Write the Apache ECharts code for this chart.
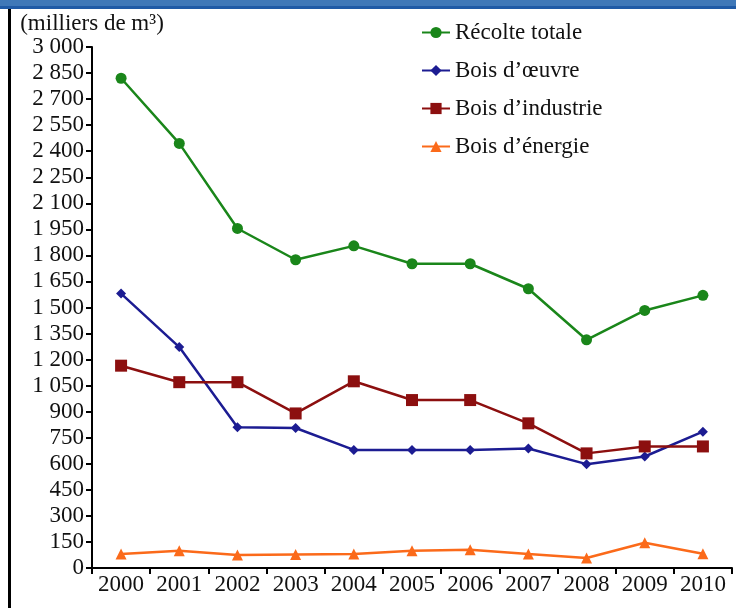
<!DOCTYPE html>
<html>
<head>
<meta charset="utf-8">
<script src="https://cdn.jsdelivr.net/npm/echarts@6/dist/echarts.min.js"></script>
<style>
  html, body { margin: 0; padding: 0; background: #ffffff; }
  #chart { width: 736px; height: 608px; }
</style>
</head>
<body>
<div id="chart"></div>
<script>
// years on the x axis
const years = ["2000", "2001", "2002", "2003", "2004", "2005", "2006", "2007", "2008", "2009", "2010"];

// thousands of m3
const recolteTotale = [2820, 2445, 1955, 1775, 1855, 1752, 1752, 1608, 1314, 1483, 1570];
const boisOeuvre = [1580, 1272, 810, 806, 680, 680, 680, 688, 598, 642, 785];
const boisIndustrie = [1165, 1070, 1070, 890, 1075, 967, 967, 833, 660, 700, 700];
const boisEnergie = [80, 100, 75, 78, 80, 100, 105, 80, 58, 145, 82];

const seriesNames = ["Récolte totale", "Bois d\u2019œuvre", "Bois d\u2019industrie", "Bois d\u2019énergie"];

const serif = "'Liberation Serif', 'DejaVu Serif', serif";

function formatThousands(value) {
  const s = String(value);
  if (s.length <= 3) {
    return s;
  }
  return s.slice(0, s.length - 3) + " " + s.slice(-3);
}

function lineSeries(name, data, color, symbol, size) {
  return {
    name: name,
    type: "line",
    data: data,
    symbol: symbol,
    symbolSize: size,
    showSymbol: true,
    itemStyle: { color: color },
    lineStyle: { color: color, width: 2.5 },
  };
}

const chart = echarts.init(document.getElementById("chart"), null, { renderer: "canvas" });

chart.setOption({
  animation: false,
  backgroundColor: "#ffffff",
  textStyle: { fontFamily: serif },
  grid: {
    left: 92,
    right: 4,
    top: 47,
    bottom: 40,
    containLabel: false,
  },
  legend: {
    orient: "vertical",
    left: 416,
    top: 16,
    itemWidth: 28,
    itemHeight: 14,
    itemGap: 15,
    data: seriesNames,
    textStyle: {
      fontFamily: serif,
      fontSize: 23,
      color: "#111111",
    },
  },
  xAxis: {
    type: "category",
    data: years,
    boundaryGap: true,
    axisLine: { lineStyle: { color: "#000000", width: 2 } },
    axisTick: {
      show: true,
      alignWithLabel: false,
      interval: 0,
      length: 6,
      lineStyle: { color: "#000000", width: 2 },
    },
    axisLabel: {
      interval: 0,
      hideOverlap: false,
      color: "#111111",
      fontFamily: serif,
      fontSize: 23,
      margin: 5,
    },
    splitLine: { show: false },
  },
  yAxis: {
    type: "value",
    min: 0,
    max: 3000,
    interval: 150,
    name: "(milliers de m\u00b3)",
    nameLocation: "end",
    nameGap: 11,
    nameTextStyle: {
      color: "#111111",
      fontFamily: serif,
      fontSize: 23,
      align: "center",
    },
    axisLine: { show: true, lineStyle: { color: "#000000", width: 2 } },
    axisTick: {
      show: true,
      length: 6,
      lineStyle: { color: "#000000", width: 2 },
    },
    axisLabel: {
      color: "#111111",
      fontFamily: serif,
      fontSize: 23,
      margin: 8,
      formatter: formatThousands,
    },
    splitLine: { show: false },
  },
  graphic: [
    {
      type: "rect",
      shape: { x: 0, y: 0, width: 736, height: 6 },
      style: { fill: "#3f78b8" },
      silent: true,
    },
    {
      type: "rect",
      shape: { x: 0, y: 6, width: 736, height: 3 },
      style: { fill: "#1f5aa6" },
      silent: true,
    },
    {
      type: "rect",
      shape: { x: 8, y: 9, width: 3, height: 599 },
      style: { fill: "#000000" },
      silent: true,
    },
  ],
  series: [
    lineSeries(seriesNames[0], recolteTotale, "#1a861a", "circle", 11),
    lineSeries(seriesNames[1], boisOeuvre, "#1c1c92", "diamond", 10),
    lineSeries(seriesNames[2], boisIndustrie, "#8c0f0f", "rect", 12),
    lineSeries(seriesNames[3], boisEnergie, "#fb6a1a", "triangle", 11),
  ],
});
</script>
</body>
</html>
